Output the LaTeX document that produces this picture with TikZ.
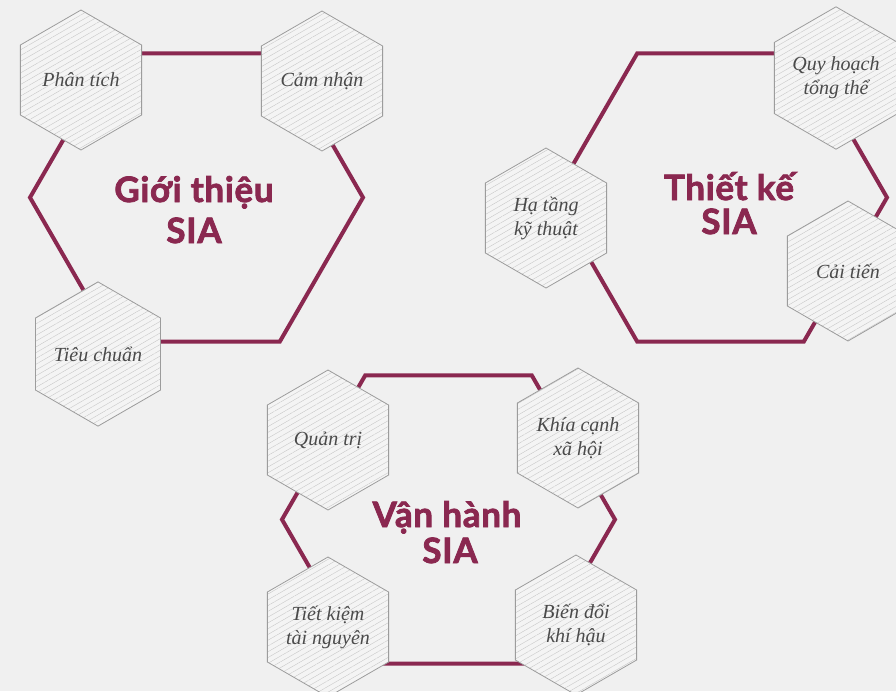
\documentclass[tikz,border=0pt]{standalone}
\usepackage{fontspec}
\setmainfont{Liberation Serif}
\newfontfamily\headfont{Lato}[BoldFeatures={FakeBold=2.2}, LetterSpace=2]
\usetikzlibrary{shapes.geometric,patterns.meta}
\definecolor{bg}{HTML}{F0F0F0}
\definecolor{maroon}{HTML}{8A2850}
\definecolor{hexfill}{HTML}{F4F4F4}
\definecolor{hatch}{HTML}{C8C8C8}
\definecolor{hexline}{HTML}{9C9C9C}
\definecolor{txt}{HTML}{4A4A4A}
\begin{document}
\begin{tikzpicture}[x=1pt,y=-1pt,
 bighex/.style={regular polygon, regular polygon sides=6, minimum size=333pt, inner sep=0pt, draw=maroon, line width=4pt},
 smallhex/.style={regular polygon, regular polygon sides=6, shape border rotate=30, minimum size=140pt, inner sep=0pt, draw=hexline, line width=0.8pt, preaction={fill=hexfill}, pattern={Lines[angle=30,distance=5pt,line width=0.4pt]}, pattern color=hatch, font=\itshape\fontsize{20}{24}\selectfont, text=txt, align=center},
 title/.style={font=\headfont\bfseries\fontsize{35}{40}\selectfont, text=maroon, inner sep=0pt, anchor=base}
]
\fill[bg] (0,0) rectangle (896,691);
\useasboundingbox (0,0) rectangle (896,691);

% big hexagons
\node[bighex] (h1) at (196.5,197.5) {};
\node[bighex] (h2) at (720.5,197.5) {};
\node[bighex] (h3) at (448.5,519.5) {};

% titles
\node[title] (t1a) at (194,202) {Giới thiệu};
\node[title] (t1b) at (194,243) {SIA};
\node[title] (t2a) at (729,200) {Thiết kế};
\node[title] (t2b) at (729,234) {SIA};
\node[title] (t3a) at (447,527) {Vận hành};
\node[title] (t3b) at (450,563) {SIA};

% small hexagons
\node[smallhex] (s1) at (81,80) {Phân tích};
\node[smallhex] (s2) at (322,81) {Cảm nhận};
\node[smallhex] (s3) at (98,354) {Tiêu chuẩn};
\node[smallhex] (s4) at (836,78) {Quy hoạch\\tổng thể};
\node[smallhex] (s5) at (546,218) {Hạ tầng\\kỹ thuật};
\node[smallhex] (s6) at (848,271) {Cải tiến};
\node[smallhex] (s7) at (328,440) {Quản trị};
\node[smallhex] (s8) at (578,438) {Khía cạnh\\xã hội};
\node[smallhex] (s9) at (328,627) {Tiết kiệm\\tài nguyên};
\node[smallhex] (s10) at (576,625) {Biến đổi\\khí hậu};
\end{tikzpicture}
\end{document}
